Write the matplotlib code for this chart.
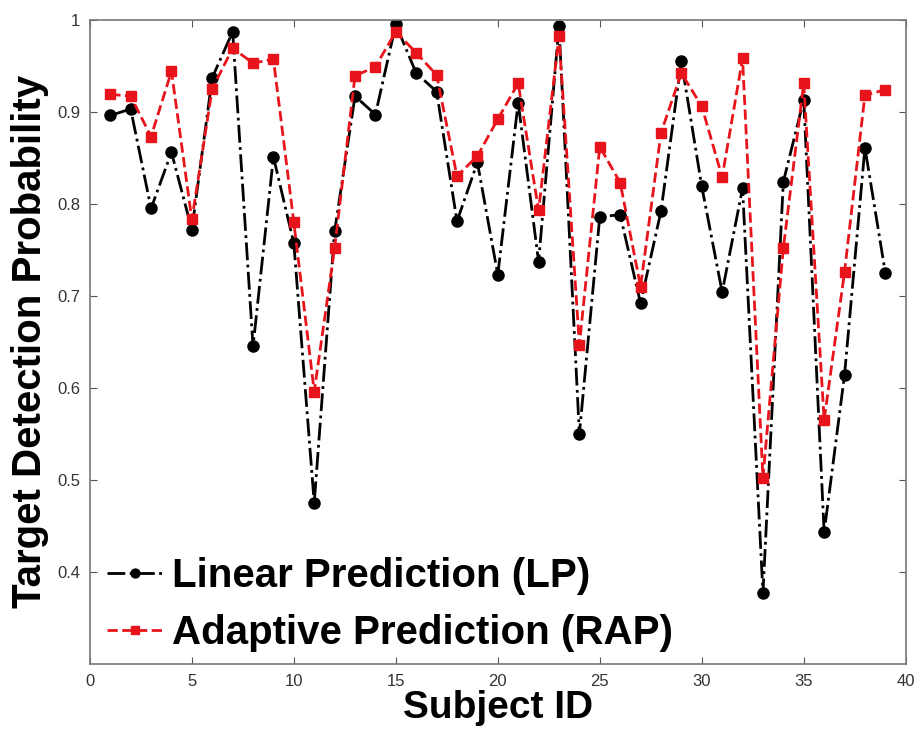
import numpy as np
import matplotlib
matplotlib.use("Agg")
import matplotlib.pyplot as plt

plt.rcParams['font.family'] = ['Liberation Sans', 'DejaVu Sans']

subjects = np.arange(1, 40)

# detection probability per subject, linear predictor
lp = [0.896, 0.903, 0.795, 0.856, 0.772, 0.937, 0.987, 0.645, 0.851, 0.757,
      0.475, 0.770, 0.917, 0.897, 0.995, 0.942, 0.922, 0.781, 0.845, 0.723,
      0.910, 0.737, 0.993, 0.550, 0.786, 0.788, 0.692, 0.792, 0.955, 0.819,
      0.704, 0.817, 0.377, 0.824, 0.913, 0.443, 0.614, 0.861, 0.725]

# detection probability per subject, adaptive predictor
rap = [0.919, 0.917, 0.873, 0.944, 0.783, 0.925, 0.969, 0.953, 0.957, 0.780,
       0.596, 0.752, 0.939, 0.949, 0.987, 0.964, 0.940, 0.830, 0.852, 0.892,
       0.931, 0.793, 0.982, 0.647, 0.862, 0.823, 0.710, 0.877, 0.942, 0.906,
       0.829, 0.958, 0.502, 0.752, 0.931, 0.565, 0.726, 0.918, 0.924]

fig = plt.figure(figsize=(9.17, 7.32), dpi=100)
ax = fig.add_axes([0.098, 0.093, 0.8897, 0.88])

ax.plot(subjects, lp, color='black', linestyle='-.', linewidth=2.0,
        marker='o', markersize=8, label='Linear Prediction (LP)')
ax.plot(subjects, rap, color='#e8141b', linestyle='--', linewidth=2.0,
        marker='s', markersize=7, label='Adaptive Prediction (RAP)')

ax.set_xlim(0, 40)
ax.set_ylim(0.3, 1.0)
ax.set_xticks([0, 5, 10, 15, 20, 25, 30, 35, 40])
ax.set_yticks([0.4, 0.5, 0.6, 0.7, 0.8, 0.9, 1.0])
ax.set_yticklabels(['0.4', '0.5', '0.6', '0.7', '0.8', '0.9', '1'])
ax.tick_params(direction='in', top=True, right=True, length=5, pad=7,
               labelsize=12, colors='#555555', labelcolor='#333333')
for s in ax.spines.values():
    s.set_color('#777777')
    s.set_linewidth(1.2)

ax.set_xlabel('Subject ID', fontsize=28, fontweight='bold', labelpad=1)
ax.set_ylabel('Target Detection Probability', fontsize=29, fontweight='bold', labelpad=6)

leg = ax.legend(loc='lower left', frameon=False,
                prop={'weight': 'bold', 'size': 29},
                handlelength=1.4, handletextpad=0.2, borderaxespad=0.3,
                borderpad=0, labelspacing=0.47, markerscale=0.8,
                bbox_to_anchor=(0.0065, 0.0))

fig.savefig('out.png', dpi=100)
